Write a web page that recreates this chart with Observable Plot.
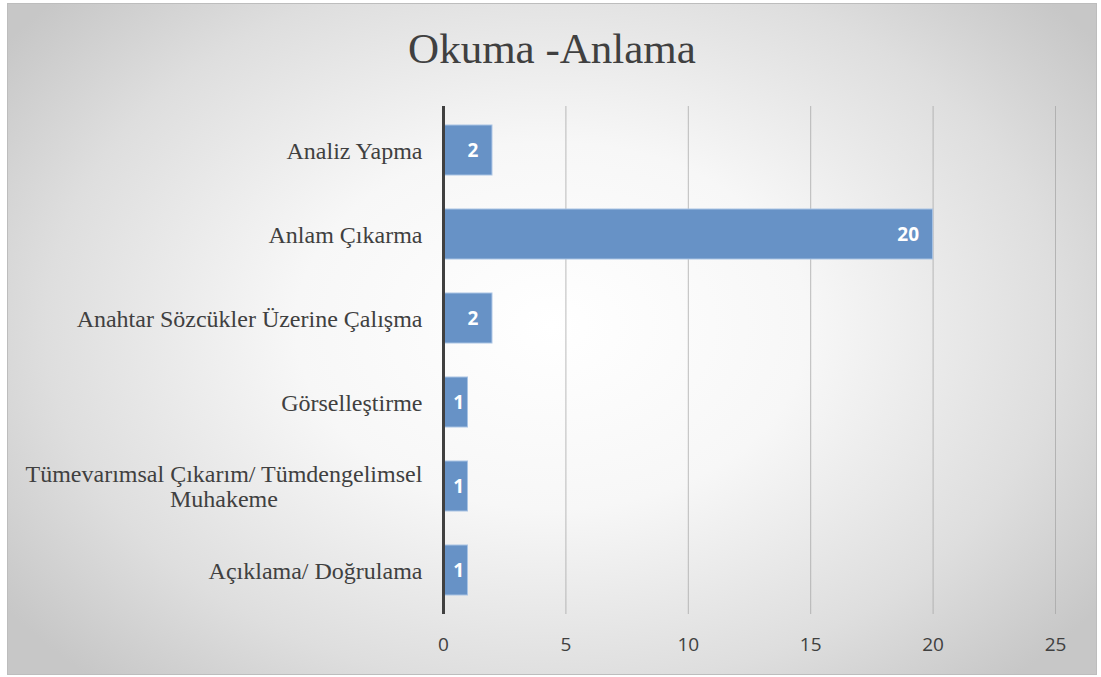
<!DOCTYPE html>
<html>
<head>
<meta charset="utf-8">
<script src="https://cdn.jsdelivr.net/npm/d3@7"></script>
<script src="https://cdn.jsdelivr.net/npm/@observablehq/plot@0.6"></script>
<style>
  html, body { margin: 0; padding: 0; background: #fff; }
  #frame {
    position: absolute; left: 7px; top: 3px; width: 1088px; height: 670px;
    border: 1px solid #bdbdbd;
    background: radial-gradient(ellipse 62% 72% at 50% 48%, #ffffff 0%, #f7f7f7 38%, #dedede 75%, #c7c7c7 100%);
    overflow: hidden;
  }
  #title {
    position: absolute; left: 0; top: 24px; width: 1104px; text-align: center;
    font-family: "Liberation Serif", "Times New Roman", serif; font-size: 43px; color: #404040;
    line-height: 50px;
  }
  #chart { position: absolute; left: 0; top: 0; }
  #chart .cat text { font-family: "Liberation Serif", "Times New Roman", serif; }
</style>
</head>
<body>
<div id="frame"></div>
<div id="title">Okuma -Anlama</div>
<div id="chart"></div>
<script>
const categories = [
  "Analiz Yapma",
  "Anlam Çıkarma",
  "Anahtar Sözcükler Üzerine Çalışma",
  "Görselleştirme",
  "Tümevarımsal Çıkarım/ Tümdengelimsel Muhakeme",
  "Açıklama/ Doğrulama"
];
const values = [2, 20, 2, 1, 1, 1];
const tickLabels = [0, 5, 10, 15, 20, 25];
const labelLines = {
  "Tümevarımsal Çıkarım/ Tümdengelimsel Muhakeme": "Tümevarımsal Çıkarım/ Tümdengelimsel\nMuhakeme"
};

const data = categories.map((c, i) => ({category: c, value: values[i]}));
const wide = data.filter(d => d.value >= 2);
const narrow = data.filter(d => d.value < 2);

const plot = Plot.plot({
  width: 1101,
  height: 677,
  marginLeft: 443,
  marginRight: 46,
  marginTop: 106,
  marginBottom: 63,
  style: {background: "transparent", overflow: "visible"},
  x: {domain: [0, 25], ticks: tickLabels},
  y: {domain: categories, paddingInner: 0.4, paddingOuter: 0.2},
  marks: [
    Plot.gridX(tickLabels, {stroke: "#a6a6a6", strokeOpacity: 0.75, strokeWidth: 1}),
    Plot.axisX({
      ticks: tickLabels, tickSize: 0, tickPadding: 23,
      fontSize: 19, fontFamily: "Open Sans, sans-serif", fill: "#404040", label: null
    }),
    Plot.axisY({
      className: "cat",
      tickSize: 0, tickPadding: 21, fontSize: 24,
      fill: "#404040",
      tickFormat: d => labelLines[d] || d, label: null, lineHeight: 1.05
    }),
    Plot.barX(data, {
      x: "value", y: "category", fill: "#6792c6", stroke: "#a9c3e3", strokeWidth: 1
    }),
    Plot.ruleX([0], {stroke: "#404040", strokeWidth: 3}),
    Plot.text(wide, {
      x: "value", y: "category", text: d => String(d.value), textAnchor: "end", dx: -14,
      fill: "white", fontWeight: "bold", fontSize: 19, fontFamily: "Open Sans, sans-serif"
    }),
    Plot.text(narrow, {
      x: d => d.value / 2, y: "category", text: d => String(d.value), textAnchor: "middle", dx: 3,
      fill: "white", fontWeight: "bold", fontSize: 19, fontFamily: "Open Sans, sans-serif"
    })
  ]
});
document.getElementById("chart").appendChild(plot);

// center multi-line category labels relative to their longest line (Excel style)
plot.querySelectorAll("text").forEach(t => {
  const spans = t.querySelectorAll("tspan");
  if (spans.length > 1) {
    const w = t.getBBox().width;
    t.setAttribute("text-anchor", "middle");
    spans.forEach(s => s.setAttribute("x", -w / 2));
  }
});
</script>
</body>
</html>
